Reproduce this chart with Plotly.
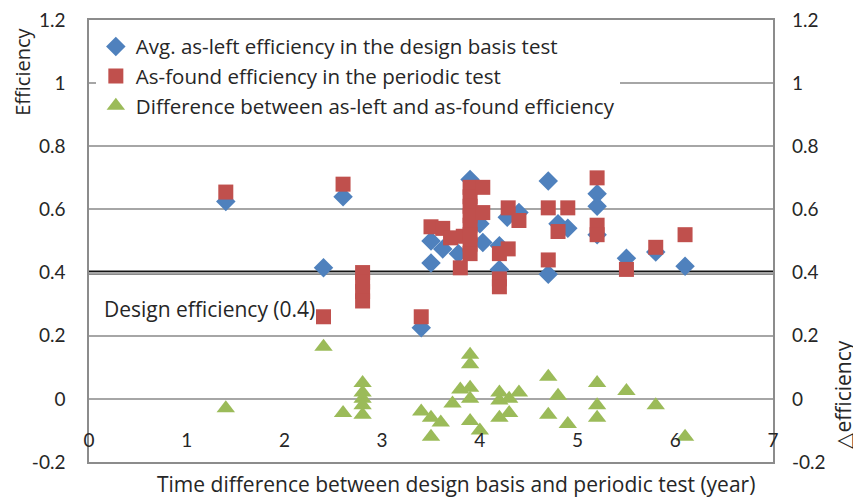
import plotly.graph_objects as go

# ---- data ----
asleft_x = [1.4, 2.4, 2.6, 3.4, 3.5, 3.5, 3.62, 3.78, 3.9, 4.0, 4.03, 4.2, 4.2, 4.28, 4.4,
            4.7, 4.7, 4.8, 4.9, 5.2, 5.2, 5.2, 5.5, 5.8, 6.1]
asleft_y = [0.625, 0.415, 0.64, 0.225, 0.50, 0.43, 0.475, 0.46, 0.695, 0.555, 0.495, 0.41, 0.485, 0.575, 0.59,
            0.69, 0.395, 0.555, 0.54, 0.65, 0.61, 0.52, 0.445, 0.465, 0.42]

asfound_x = [1.4, 2.4, 2.6, 2.8, 2.8, 2.8, 2.8, 3.4, 3.5, 3.62, 3.7, 3.8, 3.83,
             3.9, 3.9, 3.9, 3.9, 3.9, 3.9, 3.9, 3.9, 4.03, 4.03, 4.2, 4.2, 4.2,
             4.29, 4.29, 4.4, 4.7, 4.7, 4.8, 4.9, 5.2, 5.2, 5.2, 5.5, 5.8, 6.1]
asfound_y = [0.655, 0.26, 0.68, 0.40, 0.37, 0.34, 0.31, 0.26, 0.545, 0.54, 0.51, 0.415, 0.515,
             0.67, 0.64, 0.61, 0.58, 0.55, 0.52, 0.49, 0.46, 0.67, 0.59, 0.46, 0.38, 0.355,
             0.605, 0.475, 0.565, 0.605, 0.44, 0.53, 0.605, 0.70, 0.55, 0.52, 0.41, 0.48, 0.52]

diff_x = [1.4, 2.4, 2.6, 2.8, 2.8, 2.8, 2.8, 2.8, 3.4, 3.5, 3.5, 3.6, 3.72, 3.8,
          3.9, 3.9, 3.9, 3.9, 3.9, 4.0, 4.2, 4.2, 4.2, 4.3, 4.3, 4.4,
          4.7, 4.7, 4.8, 4.9, 5.2, 5.2, 5.2, 5.5, 5.8, 6.1]
diff_y = [-0.03, 0.165, -0.045, 0.05, 0.02, 0.0, -0.02, -0.05, -0.04, -0.06, -0.12, -0.075, -0.015, 0.03,
          0.14, 0.11, 0.035, 0.0, -0.07, -0.10, 0.02, -0.005, -0.06, 0.0, -0.045, 0.02,
          0.07, -0.05, 0.01, -0.08, 0.05, -0.02, -0.06, 0.025, -0.02, -0.12]

design_efficiency = 0.4
x_ticks = [0, 1, 2, 3, 4, 5, 6, 7]
y_ticks = [-0.2, 0, 0.2, 0.4, 0.6, 0.8, 1.0, 1.2]
y_ticktext = ["-0.2", "0", "0.2", "0.4", "0.6", "0.8", "1", "1.2"]

NUMFONT = "Lato"
FONT = "Open Sans"
TXT = "#262626"
TSIZE = 21

fig = go.Figure()
fig.add_trace(go.Scatter(x=asleft_x, y=asleft_y, mode="markers",
                         name="Avg. as-left efficiency in the design basis test",
                         marker=dict(symbol="diamond", size=15, color="#4F81BD")))
fig.add_trace(go.Scatter(x=asfound_x, y=asfound_y, mode="markers",
                         name="As-found efficiency in the periodic test",
                         marker=dict(symbol="square", size=15, color="#C0504D")))
fig.add_trace(go.Scatter(x=diff_x, y=diff_y, mode="markers", yaxis="y2",
                         name="Difference between as-left and as-found efficiency",
                         marker=dict(symbol="triangle-up", size=16, color="#9BBB59")))

fig.add_shape(type="line", xref="paper", x0=0, x1=1, yref="y", y0=design_efficiency, y1=design_efficiency,
              line=dict(color="#141414", width=4), layer="between")

fig.add_annotation(text="Design efficiency (0.4)", xref="paper", x=0.019, xanchor="left",
                   yref="y", y=0.286, yanchor="middle", showarrow=False,
                   font=dict(family=FONT, size=TSIZE, color=TXT))
fig.add_annotation(text="Time difference between design basis and periodic test (year)",
                   xref="paper", x=0.537, xanchor="center", yref="paper", y=-0.05, yanchor="middle",
                   showarrow=False, font=dict(family=FONT, size=TSIZE, color=TXT))
fig.add_annotation(text="Efficiency", xref="paper", x=-0.097, xanchor="center",
                   yref="paper", y=0.882, yanchor="middle", textangle=-90, showarrow=False,
                   borderpad=0, font=dict(family=FONT, size=20, color=TXT))
fig.add_annotation(text="\u25b3efficiency", xref="paper", x=1.102, xanchor="center",
                   yref="paper", y=0.152, yanchor="middle", textangle=-90, showarrow=False,
                   font=dict(family=FONT, size=TSIZE, color=TXT))

axis_common = dict(showline=True, linecolor="#8c8c8c", linewidth=1.5, mirror=True,
                   automargin=False, ticklabeloverflow="allow")
fig.update_layout(
    width=861, height=500,
    margin=dict(l=81, r=96, t=12, b=46),
    paper_bgcolor="white", plot_bgcolor="white",
    font=dict(family=FONT, size=TSIZE, color=TXT),
    showlegend=True,
    legend=dict(x=0.01, y=0.985, xanchor="left", yanchor="top", bgcolor="white",
                font=dict(family=FONT, size=20.5, color=TXT), itemwidth=30,
                tracegroupgap=0),
    xaxis=dict(range=[0, 7], tickvals=x_ticks, showgrid=False, zeroline=False,
               ticks="", ticklabelstandoff=-40, tickfont=dict(family=NUMFONT, size=19, color=TXT),
               **axis_common),
    yaxis=dict(range=[-0.2, 1.2], tickvals=y_ticks, ticktext=y_ticktext, showgrid=True,
               gridcolor="#a6a6a6", gridwidth=1.5, zeroline=False, ticks="",
               ticklabelstandoff=18, tickfont=dict(family=NUMFONT, size=19, color=TXT), **axis_common),
    yaxis2=dict(range=[-0.2, 1.2], tickvals=y_ticks, ticktext=y_ticktext, overlaying="y",
                side="right", showgrid=False, zeroline=False, ticks="", automargin=False,
                ticklabeloverflow="allow",
                ticklabelstandoff=18, tickfont=dict(family=NUMFONT, size=19, color=TXT)),
)

fig.write_html("out.html")
